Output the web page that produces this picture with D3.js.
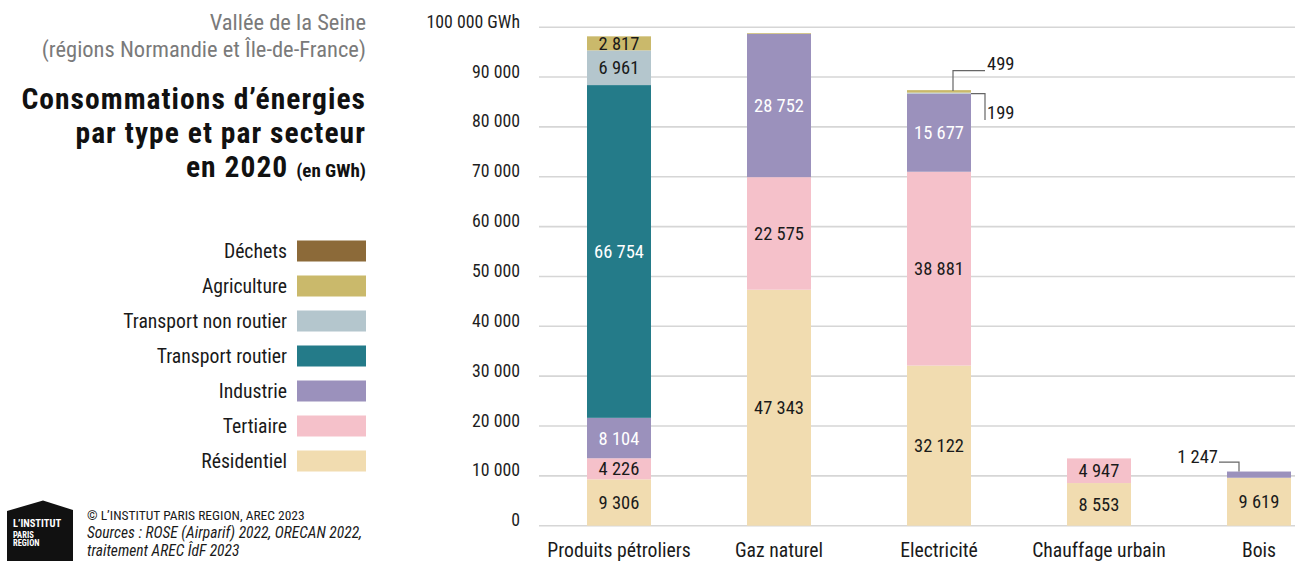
<!DOCTYPE html>
<html lang="fr">
<head>
<meta charset="utf-8">
<script src="https://cdn.jsdelivr.net/npm/d3@7"></script>
<style>
  html, body { margin: 0; padding: 0; background: #fff; }
  svg { display: block; }
  text { font-family: "Liberation Sans Narrow", "Arial Narrow", "Roboto Condensed", Roboto, sans-serif; }
</style>
</head>
<body>
<svg id="chart" width="1299" height="561"></svg>
<script>
// Energy types (x axis)
const categories = ["Produits pétroliers", "Gaz naturel", "Electricité", "Chauffage urbain", "Bois"];

// Sectors, stacked from bottom to top
const sectors = ["Résidentiel", "Tertiaire", "Industrie", "Transport routier", "Transport non routier", "Agriculture", "Déchets"];
const sectorColors = ["#f1dcb0", "#f5c1ca", "#9b91bc", "#247b89", "#b4c6cd", "#cab96b", "#8c6a39"];

// Consumption per sector, in GWh, one value per energy type
const residentiel         = [9306, 47343, 32122, 8553, 9619];
const tertiaire           = [4226, 22575, 38881, 4947, 0];
const industrie           = [8104, 28752, 15677, 0, 1247];
const transportRoutier    = [66754, 0, 0, 0, 0];
const transportNonRoutier = [6961, 0, 199, 0, 0];
const agriculture         = [2817, 150, 499, 0, 0];
const dechets             = [0, 0, 0, 0, 0];

// Y axis ticks
const yTicks = [0, 10000, 20000, 30000, 40000, 50000, 60000, 70000, 80000, 90000, 100000];
const yUnit = "GWh";

const seriesValues = [residentiel, tertiaire, industrie, transportRoutier, transportNonRoutier, agriculture, dechets];
const rows = categories.map((c, i) => {
  const r = { category: c };
  sectors.forEach((s, k) => { r[s] = seriesValues[k][i]; });
  return r;
});

const fr = d3.formatLocale({ decimal: ",", thousands: "\u00a0", grouping: [3], currency: ["", " €"] });
const fmt = fr.format(",d");

const svg = d3.select("#chart");

const x = d3.scaleBand().domain(categories).range([539, 1339]).paddingInner(0.6).paddingOuter(0.3);
const y = d3.scaleLinear().domain([0, 100000]).range([525.7, 27.2]);
const color = d3.scaleOrdinal().domain(sectors).range(sectorColors);

// Gridlines and y tick labels
const grid = svg.append("g");
grid.selectAll("line").data(yTicks).join("line")
  .attr("x1", 539).attr("x2", 1295)
  .attr("y1", d => y(d)).attr("y2", d => y(d))
  .attr("stroke", "#d6d6d6").attr("stroke-width", 1.6);
grid.selectAll("text").data(yTicks).join("text")
  .attr("x", 520).attr("y", d => y(d) + 0.5)
  .attr("text-anchor", "end")
  .attr("font-size", 17.8).attr("fill", "#1e1e1e")
  .text(d => d === 100000 ? fmt(d) + " " + yUnit : fmt(d));

// Stacked bars
const stack = d3.stack().keys(sectors);
const layers = stack(rows);

const gBars = svg.append("g");
layers.forEach(layer => {
  gBars.append("g").attr("fill", color(layer.key))
    .selectAll("rect").data(layer).join("rect")
    .attr("x", d => x(d.data.category))
    .attr("width", x.bandwidth())
    .attr("y", d => y(d[1]))
    .attr("height", d => Math.max(0, y(d[0]) - y(d[1])));
});

// Value labels inside segments tall enough to hold them
const darkSectors = ["Industrie", "Transport routier"];
const gLabels = svg.append("g");
layers.forEach(layer => {
  layer.forEach(d => {
    const v = d[1] - d[0];
    if (v < 2000) return;
    gLabels.append("text")
      .attr("x", x(d.data.category) + x.bandwidth() / 2)
      .attr("y", (y(d[0]) + y(d[1])) / 2)
      .attr("dy", "0.36em")
      .attr("text-anchor", "middle")
      .attr("font-size", 18.5)
      .attr("fill", darkSectors.includes(layer.key) ? "#fff" : "#1a1a1a")
      .text(fmt(v));
  });
});

// Leader-line labels for thin segments
const callouts = [
  { category: "Electricité", sector: "Agriculture", style: "up" },
  { category: "Electricité", sector: "Transport non routier", style: "down" },
  { category: "Bois", sector: "Industrie", style: "left" }
];
const gCall = svg.append("g");
callouts.forEach(c => {
  const layer = layers[sectors.indexOf(c.sector)];
  const d = layer[categories.indexOf(c.category)];
  const v = d[1] - d[0];
  const x0 = x(c.category), bw = x.bandwidth();
  let pts, tx, ty, anchor;
  if (c.style === "up") {
    const px = x0 + bw / 2 + 14, py = y(d[1]) + 1;
    pts = [[px, py], [px, py - 20.5], [px + 32, py - 20.5]];
    tx = px + 34; ty = py - 21.5; anchor = "start";
  } else if (c.style === "down") {
    const px = x0 + bw, py = y(d[0]);
    pts = [[px, py], [px + 14, py], [px + 14, py + 26.5]];
    tx = px + 16; ty = py + 25.5; anchor = "start";
  } else {
    const px = x0 + 12, py = y(d[1]);
    pts = [[px, py], [px, py - 9.5], [px - 20, py - 9.5]];
    tx = px - 21; ty = py - 9; anchor = "end";
  }
  gCall.append("path")
    .attr("d", d3.line()(pts))
    .attr("fill", "none").attr("stroke", "#666").attr("stroke-width", 1.2);
  gCall.append("text")
    .attr("x", tx).attr("y", ty)
    .attr("text-anchor", anchor)
    .attr("font-size", 18.5).attr("fill", "#1a1a1a")
    .text(fmt(v));
});

// X axis labels
svg.append("g").selectAll("text").data(categories).join("text")
  .attr("x", d => x(d) + x.bandwidth() / 2)
  .attr("y", 557)
  .attr("text-anchor", "middle")
  .attr("font-size", 19.7).attr("fill", "#1a1a1a")
  .text(d => d);

// Titles
const tg = svg.append("g").attr("text-anchor", "end");
tg.append("text").attr("x", 366).attr("y", 30).attr("font-size", 22.5).attr("fill", "#7a7a7a").text("Vallée de la Seine");
tg.append("text").attr("x", 366).attr("y", 57).attr("font-size", 22.5).attr("fill", "#7a7a7a").text("(régions Normandie et Île-de-France)");
const titleSize = 29.5, titleSpacing = 1.05;
tg.append("text").attr("x", 366).attr("y", 109).attr("font-size", titleSize).attr("letter-spacing", titleSpacing).attr("font-weight", "bold").attr("fill", "#111").text("Consommations d’énergies");
tg.append("text").attr("x", 366).attr("y", 143).attr("font-size", titleSize).attr("letter-spacing", titleSpacing).attr("font-weight", "bold").attr("fill", "#111").text("par type et par secteur");
const t3 = tg.append("text").attr("x", 366).attr("y", 177).attr("font-weight", "bold").attr("fill", "#111");
t3.append("tspan").attr("font-size", titleSize).attr("letter-spacing", titleSpacing).text("en 2020 ");
t3.append("tspan").attr("font-size", 19).text("(en GWh)");

// Legend (top item is the top of the stack)
const legendItems = sectors.slice().reverse();
const lg = svg.append("g");
legendItems.forEach((s, i) => {
  const cy = 251 + i * 35;
  lg.append("rect").attr("x", 297).attr("y", cy - 10.5).attr("width", 69).attr("height", 21).attr("fill", color(s));
  lg.append("text").attr("x", 287).attr("y", cy).attr("dy", "0.36em")
    .attr("text-anchor", "end").attr("font-size", 19.7).attr("fill", "#1a1a1a").text(s);
});

// Logo
const logo = svg.append("g");
logo.append("path").attr("d", "M7,511 L43,500.5 L73,510 L73,561 L7,561 Z").attr("fill", "#111");
logo.append("text").attr("x", 13).attr("y", 526.5).attr("font-size", 10.5).attr("font-weight", "bold").attr("fill", "#fff").text("L’INSTITUT");
logo.append("text").attr("x", 13).attr("y", 537.5).attr("font-size", 8.5).attr("font-weight", "bold").attr("fill", "#fff").text("PARIS");
logo.append("text").attr("x", 13).attr("y", 546).attr("font-size", 8.5).attr("font-weight", "bold").attr("fill", "#fff").text("REGION");

// Credits and sources
const cg = svg.append("g").attr("fill", "#1a1a1a");
cg.append("text").attr("x", 87).attr("y", 520).attr("font-size", 13.5).text("© L’INSTITUT PARIS REGION, AREC 2023");
cg.append("text").attr("x", 87).attr("y", 538).attr("font-size", 15.5).attr("font-style", "italic").text("Sources : ROSE (Airparif) 2022, ORECAN 2022,");
cg.append("text").attr("x", 87).attr("y", 556).attr("font-size", 15.5).attr("font-style", "italic").text("traitement AREC ÎdF 2023");
</script>
</body>
</html>
